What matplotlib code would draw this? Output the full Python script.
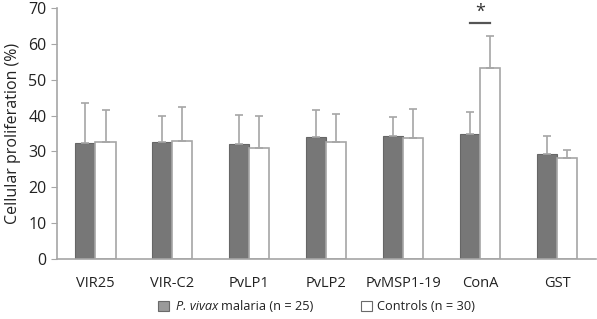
import numpy as np
import matplotlib
matplotlib.use("Agg")
import matplotlib.pyplot as plt
from matplotlib.patches import Rectangle

categories = ["VIR25", "VIR-C2", "PvLP1", "PvLP2", "PvMSP1-19", "ConA", "GST"]
malaria_mean = [32.3, 32.6, 32.0, 34.0, 34.3, 35.0, 29.2]
malaria_err = [11.2, 7.4, 8.2, 7.5, 5.2, 6.0, 5.0]
control_mean = [32.6, 33.0, 31.0, 32.7, 33.8, 53.4, 28.3]
control_err = [8.9, 9.5, 9.0, 7.8, 7.9, 8.8, 2.0]

plt.rcParams['font.family'] = ['Open Sans', 'DejaVu Sans']

fig = plt.figure(figsize=(5.97, 3.19), dpi=100)
ax = fig.add_axes([0.0955, 0.188, 0.9025, 0.787])

x = np.arange(len(categories))
w = 0.26
gray = "#a6a6a6"
ax.bar(x - w / 2, malaria_mean, w, color="#777777", edgecolor="#666666", linewidth=0.8,
       yerr=[np.zeros(len(x)), malaria_err], error_kw=dict(ecolor=gray, elinewidth=1.2, capsize=3, capthick=1.2))
ax.bar(x + w / 2, control_mean, w, color="white", edgecolor=gray, linewidth=1.2,
       yerr=[np.zeros(len(x)), control_err], error_kw=dict(ecolor=gray, elinewidth=1.2, capsize=3, capthick=1.2))

# significance mark for ConA
ax.plot([5 - 0.13, 5 + 0.13], [65.8, 65.8], color="#555555", lw=1.6)
ax.text(5, 66.3, "*", ha="center", va="bottom", fontsize=13, color="#333333")

ax.set_xlim(-0.5, len(categories) - 0.5)
ax.set_ylim(0, 70)
ax.set_yticks(range(0, 71, 10))
ax.set_xticks(x)
ax.set_xticklabels(categories)
ax.tick_params(axis="x", length=0, pad=12, labelsize=10.5, colors="#222222")
ax.tick_params(axis="y", length=4, labelsize=11.5, colors="#222222")
ax.tick_params(axis="y", color=gray)
for s in ["top", "right"]:
    ax.spines[s].set_visible(False)
for s in ["left", "bottom"]:
    ax.spines[s].set_color(gray)
    ax.spines[s].set_linewidth(1.2)
ax.set_ylabel("Cellular proliferation (%)", fontsize=11.5, color="#222222", labelpad=5)

# legend at bottom
fig.patches.append(Rectangle((158 / 597, 1 - 311 / 319), 11 / 597, 10 / 319, transform=fig.transFigure,
                             facecolor="#9a9a9a", edgecolor="#6a6a6a", lw=0.8))
t1 = fig.text(176 / 597, 1 - 307 / 319, "P. vivax", fontsize=9.2, style="italic", va="center", ha="left",
              color="#222222")
fig.canvas.draw()
bb = t1.get_window_extent(renderer=fig.canvas.get_renderer())
fig.text((bb.x1 + 3) / 597, 1 - 307 / 319, "malaria (n = 25)", fontsize=9.2, va="center", ha="left",
         color="#222222")
fig.patches.append(Rectangle((361 / 597, 1 - 311 / 319), 11 / 597, 10 / 319, transform=fig.transFigure,
                             facecolor="white", edgecolor="#6a6a6a", lw=0.8))
fig.text(377 / 597, 1 - 307 / 319, "Controls (n = 30)", fontsize=9.2, va="center", ha="left", color="#222222")

fig.savefig("out.png", dpi=100)
